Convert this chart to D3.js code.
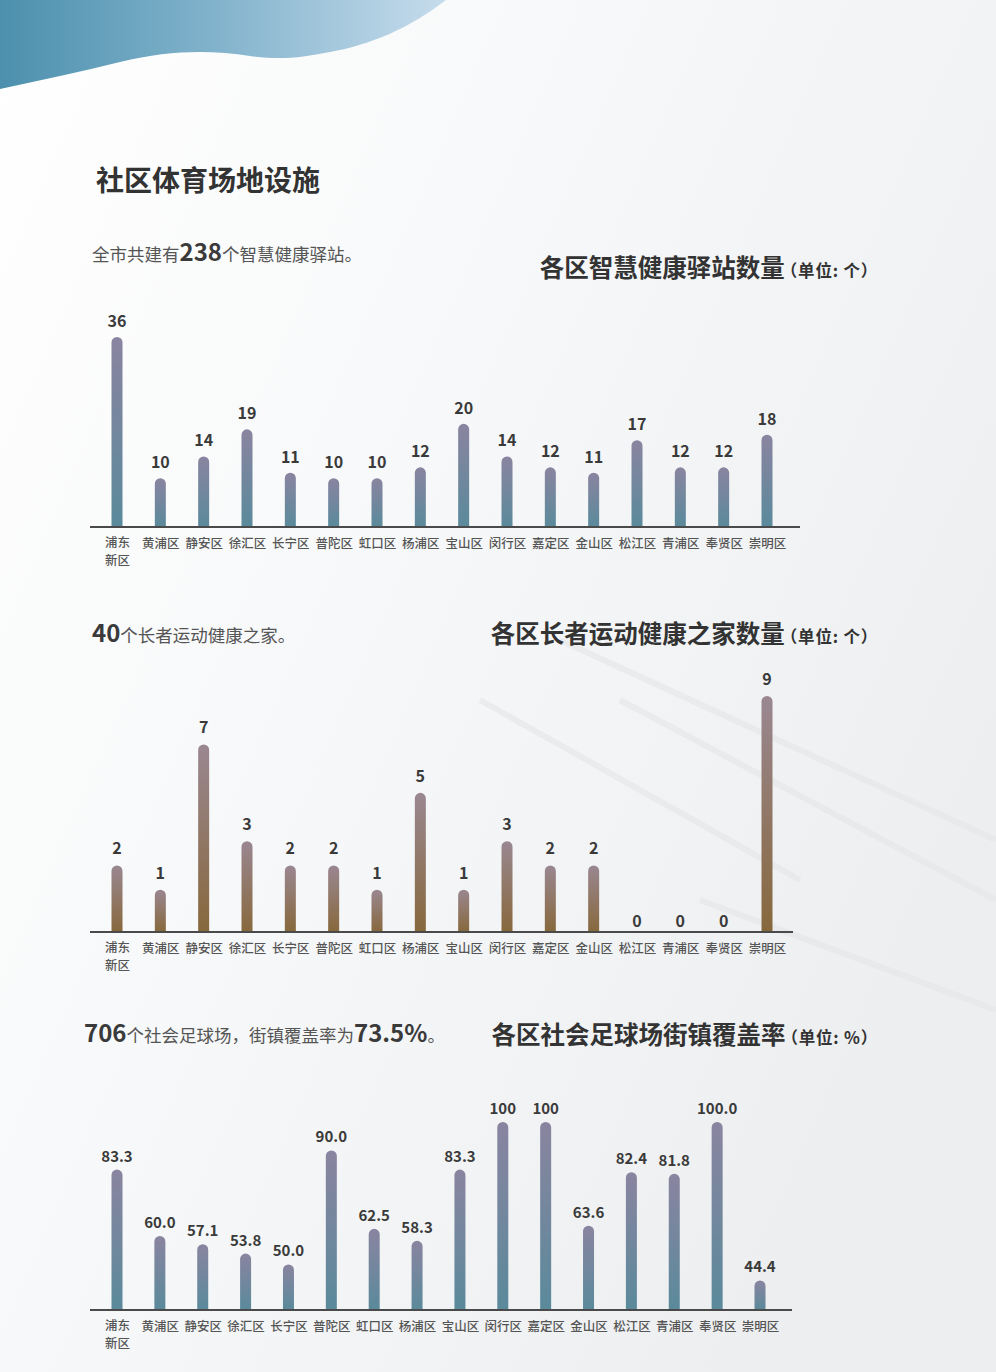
<!DOCTYPE html>
<meta charset="utf-8">
<style>
body { margin: 0; background: #fff; }
svg { display: block; }
text { font-family: "Noto Sans CJK SC", "Noto Sans", sans-serif; }
.val { font-weight: 700; fill: #3a3a3a; text-anchor: middle; }
.cat text, text.cat2 { font-size: 12.5px; fill: #555; font-weight: 500; }
.axisline { stroke: #4a4a4a; stroke-width: 2; }
</style>
<body>
<svg width="996" height="1372"></svg>
</body>
<script src="https://d3js.org/d3.v7.min.js"></script>
<script>

// data
var districts = ["浦东新区", "黄浦区", "静安区", "徐汇区", "长宁区", "普陀区", "虹口区", "杨浦区",
                 "宝山区", "闵行区", "嘉定区", "金山区", "松江区", "青浦区", "奉贤区", "崇明区"];
var stations = [36, 10, 14, 19, 11, 10, 10, 12, 20, 14, 12, 11, 17, 12, 12, 18];
var elderHomes = [2, 1, 7, 3, 2, 2, 1, 5, 1, 3, 2, 2, 0, 0, 0, 9];
var coverage = [83.3, 60.0, 57.1, 53.8, 50.0, 90.0, 62.5, 58.3, 83.3, 100, 100, 63.6, 82.4, 81.8, 100.0, 44.4];
var coverageLabels = ["83.3", "60.0", "57.1", "53.8", "50.0", "90.0", "62.5", "58.3",
                      "83.3", "100", "100", "63.6", "82.4", "81.8", "100.0", "44.4"];

var svg = d3.select("svg");
var defs = svg.append("defs");

// background
var bg = defs.append("linearGradient").attr("id", "bg").attr("x1", 0).attr("y1", 0).attr("x2", 1).attr("y2", 0.6);
bg.append("stop").attr("offset", "0").attr("stop-color", "#ffffff");
bg.append("stop").attr("offset", "0.45").attr("stop-color", "#f7f8f9");
bg.append("stop").attr("offset", "1").attr("stop-color", "#eceef0");
svg.append("rect").attr("width", 996).attr("height", 1372).attr("fill", "url(#bg)");

// faint streaks on the right (faded photo)
var streaks = [[560, 640, 996, 840], [620, 700, 996, 900], [700, 900, 996, 1010], [480, 700, 800, 880]];
svg.selectAll(".streak").data(streaks).enter().append("line")
    .attr("x1", d => d[0]).attr("y1", d => d[1]).attr("x2", d => d[2]).attr("y2", d => d[3])
    .attr("stroke", "#e4e6e8").attr("stroke-width", 6).attr("opacity", 0.6);

// header wave
var wave = defs.append("linearGradient").attr("id", "wave").attr("x1", 0).attr("x2", 1).attr("y1", 0).attr("y2", 0);
wave.append("stop").attr("offset", "0").attr("stop-color", "#4c90ad");
wave.append("stop").attr("offset", "0.5").attr("stop-color", "#84b4cd");
wave.append("stop").attr("offset", "1").attr("stop-color", "#c6dcec");
svg.append("path")
    .attr("d", "M0,0 L446,0 C410,28 370,45 330,52 C300,58 280,60 250,56 C210,50 170,50 120,62 C80,72 40,80 0,89 Z")
    .attr("fill", "url(#wave)");

// bar gradients
function grad(id, top, bottom) {
  var g = defs.append("linearGradient").attr("id", id).attr("x1", 0).attr("x2", 0).attr("y1", 0).attr("y2", 1);
  g.append("stop").attr("offset", "0").attr("stop-color", top);
  g.append("stop").attr("offset", "1").attr("stop-color", bottom);
}
grad("blue", "#8a84a0", "#5a8a9b");
grad("brown", "#9a8791", "#87683c");

// headings
svg.append("text").attr("x", 96).attr("y", 191)
    .style("font-size", "28px").style("font-weight", 700).attr("fill", "#333")
    .text("社区体育场地设施");

function lead(y, parts) {
  var t = svg.append("text").attr("x", parts.x).attr("y", y).attr("fill", "#444");
  parts.items.forEach(function(p) {
    t.append("tspan").text(p[0])
      .style("font-size", p[1] ? "24px" : "17.5px")
      .style("font-weight", p[1] ? 700 : 400)
      .attr("fill", p[1] ? "#3a3a3a" : "#555");
  });
}
function title(y, main, unit) {
  var t = svg.append("text").attr("x", 878).attr("y", y).attr("text-anchor", "end").attr("fill", "#333");
  t.append("tspan").text(main).style("font-size", "24.5px").style("font-weight", 700);
  t.append("tspan").text(unit).style("font-size", "16.5px").style("font-weight", 700)
      .attr("dx", -4).style("letter-spacing", "0.8px");
}

lead(261, {x: 92, items: [["全市共建有"], ["238", 1], ["个智慧健康驿站。"]]});
title(277, "各区智慧健康驿站数量", "（单位: 个）");
lead(642, {x: 92, items: [["40", 1], ["个长者运动健康之家。"]]});
title(643, "各区长者运动健康之家数量", "（单位: 个）");
lead(1042, {x: 84, items: [["706", 1], ["个社会足球场，街镇覆盖率为"], ["73.5%", 1], ["。"]]});
title(1044, "各区社会足球场街镇覆盖率", "（单位: %）");

// bar charts
function barChart(opt) {
  var x = d3.scalePoint().domain(districts).range(opt.xr);
  var y = d3.scaleLinear().domain(opt.yd).range(opt.yr);
  var base = opt.yr[0];
  var w = 11, r = 5.5;
  var data = districts.map(function(d, i) { return {name: d, v: opt.values[i], label: opt.labels ? opt.labels[i] : String(opt.values[i])}; });

  var g = svg.append("g");
  g.selectAll(".bar").data(data.filter(d => d.v > 0)).enter().append("path")
      .attr("fill", "url(#" + opt.fill + ")")
      .attr("d", function(d) {
        var cx = x(d.name), top = y(d.v);
        return "M" + (cx - w / 2) + "," + base +
               "V" + (top + r) +
               "A" + r + "," + r + " 0 0 1 " + (cx + w / 2) + "," + (top + r) +
               "V" + base + "Z";
      });

  g.selectAll(".val").data(data).enter().append("text")
      .attr("class", "val")
      .style("font-size", opt.fs + "px")
      .attr("x", d => x(d.name))
      .attr("y", d => d.v > 0 ? y(d.v) - opt.gap : base - 5)
      .text(d => d.label);

  g.append("line").attr("class", "axisline")
      .attr("x1", 90).attr("x2", opt.axisEnd).attr("y1", base).attr("y2", base);

  var ax = g.append("g").attr("class", "cat")
      .attr("transform", "translate(0," + base + ")")
      .call(d3.axisBottom(x).tickSize(0).tickPadding(0));
  ax.select(".domain").remove();
  ax.selectAll("text").attr("dy", null).attr("y", d => d.length > 3 ? 20 : 21)
      .text(d => d.length > 3 ? d.slice(0, 2) : d);
  // second line for the long name
  ax.selectAll(".tick").filter(d => d.length > 3).append("text")
      .attr("class", "cat2").attr("y", 38).attr("text-anchor", "middle")
      .text(d => d.slice(2));
}

barChart({values: stations, fill: "blue", xr: [117, 767], yd: [1, 36], yr: [527, 337], gap: 10, fs: 16, axisEnd: 800});
barChart({values: elderHomes, fill: "brown", xr: [117, 767], yd: [-0.75, 9], yr: [932, 696], gap: 11, fs: 16, axisEnd: 793});
barChart({values: coverage, labels: coverageLabels, fill: "blue", xr: [117, 760], yd: [34, 100], yr: [1310, 1122], gap: 8, fs: 15, axisEnd: 792});

</script>
